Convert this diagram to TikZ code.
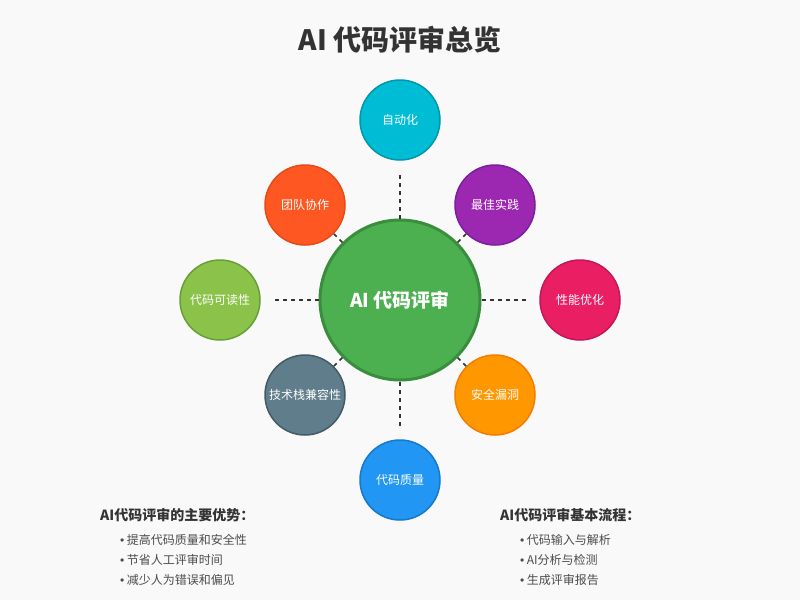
\documentclass[tikz,border=0pt]{standalone}
\usepackage{fontspec}
\setmainfont{Noto Sans CJK SC}
\newfontfamily\latfont{Liberation Sans}
\newcommand{\bul}{{\latfont •}\hspace{2.5pt}}
\begin{document}
\begin{tikzpicture}[x=1pt,y=-1pt,
  sat/.style={circle,minimum size=80pt,inner sep=0pt,line width=1.5pt,text=white,font=\fontsize{12}{14}\selectfont},
  hub/.style={circle,minimum size=160pt,inner sep=0pt,line width=3pt,fill=hubfill,draw=hubdraw,text=white,font=\bfseries\fontsize{19}{22}\selectfont},
  link/.style={draw=black!80,line width=1.5pt,dash pattern=on 4pt off 4pt},
  heading/.style={anchor=west,inner sep=0pt,text=black!80,font=\bfseries\fontsize{14}{16}\selectfont},
  item/.style={anchor=west,inner sep=0pt,text=black!70,font=\fontsize{12}{14}\selectfont}]
\definecolor{bg}{HTML}{F9F9F9}
\definecolor{hubfill}{HTML}{4CAF50}\definecolor{hubdraw}{HTML}{388E3C}
\definecolor{c1}{HTML}{00BCD4}\definecolor{d1}{HTML}{0097A7}
\definecolor{c2}{HTML}{9C27B0}\definecolor{d2}{HTML}{7B1FA2}
\definecolor{c3}{HTML}{E91E63}\definecolor{d3}{HTML}{C2185B}
\definecolor{c4}{HTML}{FF9800}\definecolor{d4}{HTML}{F57C00}
\definecolor{c5}{HTML}{2196F3}\definecolor{d5}{HTML}{1976D2}
\definecolor{c6}{HTML}{607D8B}\definecolor{d6}{HTML}{455A64}
\definecolor{c7}{HTML}{8BC34A}\definecolor{d7}{HTML}{689F38}
\definecolor{c8}{HTML}{FF5722}\definecolor{d8}{HTML}{E64A19}
\fill[bg] (0,0) rectangle (800,600);
\useasboundingbox (0,0) rectangle (800,600);
\node[inner sep=0pt,text=black!80,font=\bfseries\fontsize{28}{30}\selectfont] (title) at (400,40) {AI 代码评审总览};
\node[hub] (hub) at (400,300) {\raisebox{-3pt}{AI 代码评审}};
\node[sat,fill=c1,draw=d1] (s1) at (400,120) {自动化};
\node[sat,fill=c2,draw=d2] (s2) at (495,205) {最佳实践};
\node[sat,fill=c3,draw=d3] (s3) at (580,300) {性能优化};
\node[sat,fill=c4,draw=d4] (s4) at (495,395) {安全漏洞};
\node[sat,fill=c5,draw=d5] (s5) at (400,480) {代码质量};
\node[sat,fill=c6,draw=d6] (s6) at (305,395) {技术栈兼容性};
\node[sat,fill=c7,draw=d7] (s7) at (220,300) {代码可读性};
\node[sat,fill=c8,draw=d8] (s8) at (305,205) {团队协作};
\draw[link,shorten >=10pt] (hub.north) -- (s1.south);
\draw[link,shorten >=10pt] (hub.south) -- (s5.north);
\draw[link,shorten >=10pt] (hub.west) -- (s7.east);
\draw[link,shorten >=10pt] (hub.east) -- (s3.west);
\draw[link] (hub.north east) -- (s2.south west);
\draw[link] (hub.south east) -- (s4.north west);
\draw[link] (hub.south west) -- (s6.north east);
\draw[link] (hub.north west) -- (s8.south east);
\node[heading] (h1) at (100,515) {AI代码评审的主要优势：};
\node[item] (i11) at (120,540) {\bul 提高代码质量和安全性};
\node[item] (i12) at (120,560) {\bul 节省人工评审时间};
\node[item] (i13) at (120,580) {\bul 减少人为错误和偏见};
\node[heading] (h2) at (500,515) {AI代码评审基本流程：};
\node[item] (i21) at (520,540) {\bul 代码输入与解析};
\node[item] (i22) at (520,560) {\bul AI分析与检测};
\node[item] (i23) at (520,580) {\bul 生成评审报告};
\end{tikzpicture}
\end{document}
